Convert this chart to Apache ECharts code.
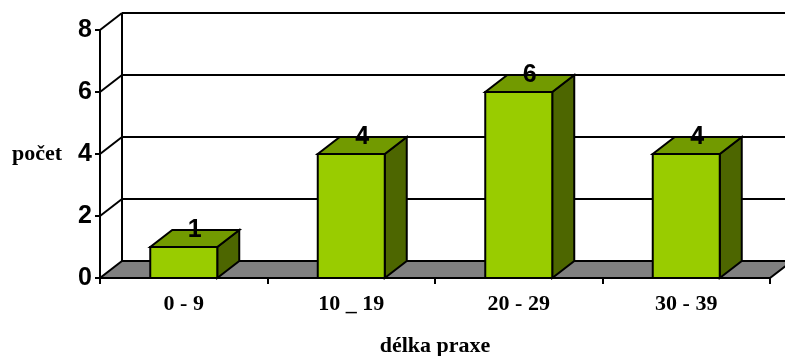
<!DOCTYPE html>
<html>
<head>
<meta charset="utf-8">
<script src="https://cdn.jsdelivr.net/npm/echarts@6/dist/echarts.min.js"></script>
<style>
  html, body { margin: 0; padding: 0; background: #fff; }
  #chart { width: 785px; height: 356px; }
</style>
</head>
<body>
<div id="chart"></div>
<script>
// Length of practice (years) and number of respondents
const categories = ['0 - 9', '10 _ 19', '20 - 29', '30 - 39'];
const counts = [1, 4, 6, 4];
const yTicks = [0, 2, 4, 6, 8];

// Depth offset of the pseudo-3D box (pixels)
const DX = 22;
const DY = -17;

const FRONT = '#99cc00';
const TOP = '#729a00';
const SIDE = '#4d6600';
const FLOOR = '#808080';

const SERIF = '"Liberation Serif", "Times New Roman", serif';
const SANS = '"Liberation Sans", Arial, sans-serif';

const chart = echarts.init(document.getElementById('chart'));

function bandEdges(api, v) {
  const bw = api.size([1, 0])[0];
  const first = api.coord([0, v]);
  const last = api.coord([categories.length - 1, v]);
  return { left: first[0] - bw / 2, right: last[0] + bw / 2, y: first[1] };
}

// Back wall, floor and the receding gridlines
function renderWalls(params, api) {
  const v = api.value(0);
  const e = bandEdges(api, v);
  const lineStyle = { stroke: '#000', lineWidth: 2, fill: null };
  const children = [];
  if (v === 0) {
    children.push({
      type: 'polygon',
      shape: { points: [[e.left, e.y], [e.right, e.y], [e.right + DX, e.y + DY], [e.left + DX, e.y + DY]] },
      style: { fill: FLOOR, stroke: '#000', lineWidth: 2 }
    });
  } else {
    children.push({
      type: 'line',
      shape: { x1: e.left, y1: e.y, x2: e.left + DX, y2: e.y + DY },
      style: lineStyle
    });
    children.push({
      type: 'line',
      shape: { x1: e.left + DX, y1: e.y + DY, x2: e.right + DX, y2: e.y + DY },
      style: lineStyle
    });
  }
  if (v === yTicks[yTicks.length - 1]) {
    const base = bandEdges(api, 0);
    children.push({
      type: 'line',
      shape: { x1: e.left + DX, y1: e.y + DY, x2: base.left + DX, y2: base.y + DY },
      style: lineStyle
    });
  }
  return { type: 'group', children: children };
}

// Box-shaped bars with a value label on top
function renderBars(params, api) {
  const idx = api.value(0);
  const val = api.value(1);
  const top = api.coord([idx, val]);
  const base = api.coord([idx, 0]);
  const w = api.size([1, 0])[0] * 0.4;
  const xl = top[0] - w / 2, xr = top[0] + w / 2;
  const yt = top[1], yb = base[1];
  const stroke = { stroke: '#000', lineWidth: 2, lineJoin: 'miter' };
  return {
    type: 'group',
    children: [
      {
        type: 'polygon',
        shape: { points: [[xr, yt], [xr + DX, yt + DY], [xr + DX, yb + DY], [xr, yb]] },
        style: Object.assign({ fill: SIDE }, stroke)
      },
      {
        type: 'polygon',
        shape: { points: [[xl, yt], [xr, yt], [xr + DX, yt + DY], [xl + DX, yt + DY]] },
        style: Object.assign({ fill: TOP }, stroke)
      },
      {
        type: 'rect',
        shape: { x: xl, y: yt, width: w, height: yb - yt },
        style: Object.assign({ fill: FRONT }, stroke)
      },
      {
        type: 'text',
        x: top[0] + DX / 2,
        y: yt + DY / 2 - 8,
        style: {
          text: String(val),
          fill: '#000',
          font: 'bold 25px ' + SANS,
          align: 'center',
          verticalAlign: 'middle'
        }
      }
    ]
  };
}

chart.setOption({
  animation: false,
  backgroundColor: '#fff',
  grid: { left: 100, right: 15, top: 30, bottom: 78, containLabel: false, outerBoundsMode: 'none' },
  xAxis: {
    type: 'category',
    data: categories,
    boundaryGap: true,
    axisLine: { show: true, lineStyle: { color: '#000', width: 2 } },
    axisTick: { show: true, length: 6, alignWithLabel: false, lineStyle: { color: '#000', width: 2 } },
    axisLabel: {
      margin: 15,
      color: '#000',
      fontFamily: SERIF,
      fontWeight: 'bold',
      fontSize: 22
    },
    name: 'délka praxe',
    nameLocation: 'middle',
    nameGap: 57,
    nameTextStyle: {
      color: '#000',
      fontFamily: SERIF,
      fontWeight: 'bold',
      fontSize: 22
    },
    splitLine: { show: false },
    z: 10
  },
  yAxis: {
    type: 'value',
    min: 0,
    max: 8,
    interval: 2,
    axisLine: { show: true, lineStyle: { color: '#000', width: 2 } },
    axisTick: { show: true, length: 5, lineStyle: { color: '#000', width: 2 } },
    axisLabel: {
      margin: 8,
      color: '#000',
      fontFamily: SANS,
      fontWeight: 'bold',
      fontSize: 25
    },
    name: 'počet',
    nameLocation: 'middle',
    nameRotate: 0,
    nameGap: 38,
    nameTextStyle: {
      color: '#000',
      fontFamily: SERIF,
      fontWeight: 'bold',
      fontSize: 22
    },
    splitLine: { show: false },
    z: 10
  },
  series: [
    {
      type: 'custom',
      z: 1,
      clip: false,
      renderItem: renderWalls,
      data: yTicks.map(v => [v])
    },
    {
      type: 'custom',
      z: 5,
      clip: false,
      renderItem: renderBars,
      encode: { x: 0, y: 1 },
      data: counts.map((c, i) => [i, c])
    }
  ]
});
</script>
</body>
</html>
